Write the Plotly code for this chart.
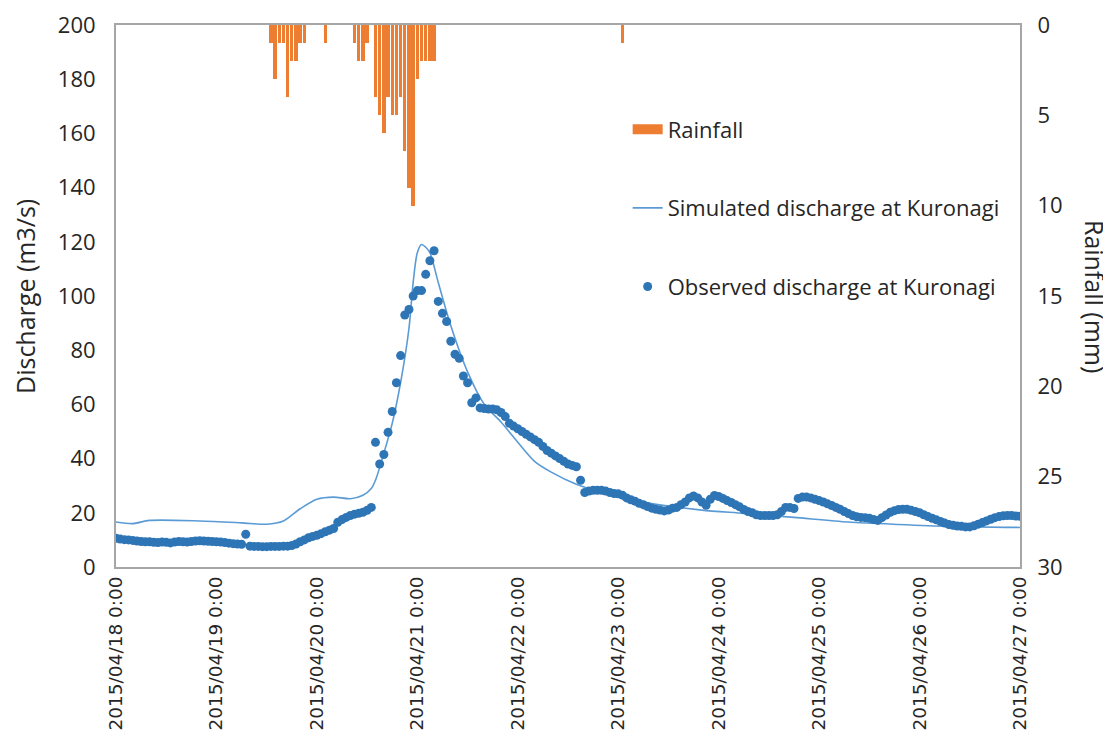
import pandas as pd
import plotly.graph_objects as go

# ---------------- data ----------------
# Rainfall (mm), hourly, hanging from top on reversed right axis
rain_time = (
    [f"2015-04-19 {h:02d}:00" for h in range(13, 22)]
    + ["2015-04-20 02:00"]
    + [f"2015-04-20 {h:02d}:00" for h in range(9, 24)]
    + [f"2015-04-21 {h:02d}:00" for h in range(0, 5)]
    + ["2015-04-23 01:00"]
)
rain_mm = (
    [1, 3, 1, 1, 4, 2, 2, 1, 1]
    + [1]
    + [1, 2, 2, 1, 0, 4, 5, 6, 4, 5, 5, 4, 7, 9, 10]
    + [3, 2, 2, 2, 2]
    + [1]
)

# Simulated discharge (m3/s), sampled at hours after 2015-04-18 0:00
sim_hour = [0, 4, 8, 20, 30, 36, 40, 44, 48, 52, 56, 59, 61, 62, 64, 66, 68, 70, 71,
            72, 73, 74, 75, 77, 80, 84, 88, 92, 96, 100, 104, 110, 116, 124, 132, 140,
            150, 162, 175, 187, 199, 216]
sim_q = [16.6, 16.0, 17.2, 17.0, 16.3, 15.8, 17.0, 21.5, 25.0, 25.8, 25.2, 26.5, 29.0,
         32.0, 42.0, 53.0, 68.0, 88.0, 105.0, 116.0, 119.0, 118.0, 116.0, 105.0, 89.0,
         72.0, 60.0, 53.5, 46.0, 39.0, 35.0, 30.5, 27.5, 24.5, 22.5, 21.0, 19.8, 18.3,
         16.6, 15.7, 15.0, 14.6]

# Observed discharge (m3/s), hourly from 2015-04-18 0:00
obs_q = [
    10.6, 10.3, 10.1, 10.0, 9.8, 9.6, 9.4, 9.3, 9.3, 9.1, 9.0, 9.2, 9.1, 8.9, 9.2, 9.4,
    9.3, 9.2, 9.4, 9.6, 9.7, 9.6, 9.5, 9.4, 9.3, 9.2, 9.0, 8.8, 8.6, 8.5, 8.4, 12.1,
    7.7, 7.6, 7.6, 7.5, 7.5, 7.6, 7.6, 7.6, 7.7, 7.7, 7.9, 8.5, 9.3, 10.0, 10.8, 11.3,
    11.7, 12.3, 13.0, 13.6, 14.2, 16.5, 17.5, 18.3, 19.0, 19.5, 19.8, 20.2, 20.9, 22.0,
    46.0, 38.0, 41.5, 49.7, 57.4, 68.0, 78.0, 93.0, 95.0, 100.0, 102.0, 102.0, 108.0,
    113.0, 116.7, 98.0, 93.6, 90.6, 83.3, 78.5, 77.0, 70.5, 68.0, 60.6, 62.4, 58.7,
    58.5, 58.3, 58.3, 58.0, 57.0, 55.5, 53.0, 52.0, 51.0, 50.0, 49.0, 48.0, 47.0, 46.0,
    44.5, 43.0, 42.0, 41.0, 40.0, 39.0, 38.0, 37.5, 37.0, 32.0, 27.5, 28.0, 28.3, 28.3,
    28.3, 28.0, 27.5, 27.1, 27.0, 26.5, 25.5, 24.8, 24.3, 23.5, 23.0, 22.3, 21.7, 21.3,
    21.0, 20.7, 21.0, 21.7, 22.0, 23.0, 24.0, 25.5, 26.2, 25.5, 24.0, 22.8, 25.0, 26.4,
    26.0, 25.3, 24.5, 23.8, 23.0, 22.2, 21.2, 20.5, 20.0, 19.3, 19.0, 19.0, 19.0, 19.0,
    19.3, 20.5, 22.0, 22.0, 21.6, 25.3, 25.8, 25.8, 25.5, 25.0, 24.5, 24.0, 23.3, 22.7,
    22.0, 21.3, 20.5, 19.7, 19.0, 18.5, 18.3, 18.2, 18.0, 17.5, 17.2, 18.2, 19.2, 20.2,
    20.8, 21.2, 21.3, 21.3, 20.9, 20.5, 20.0, 19.3, 18.6, 18.0, 17.4, 16.8, 16.2, 15.7,
    15.4, 15.1, 15.0, 14.8, 14.8, 15.2, 15.8, 16.4, 17.0, 17.6, 18.2, 18.6, 18.9, 19.0,
    19.0, 18.8, 18.7,
]

start = pd.Timestamp("2015-04-18 00:00")
sim_time = [start + pd.Timedelta(hours=h) for h in sim_hour]
obs_time = pd.date_range(start, periods=len(obs_q), freq="h")

ORANGE = "#ED7D31"
LINE_BLUE = "#5B9BD5"
DOT_BLUE = "#2E75B6"
AXIS_GRAY = "#A6A6A6"
TEXT = "#262626"
FONT = "Open Sans, Noto Sans, sans-serif"

fig = go.Figure()

fig.add_trace(go.Bar(
    x=rain_time, y=rain_mm, yaxis="y2", name="Rainfall",
    marker=dict(color=ORANGE, line=dict(width=0)),
    width=0.8 * 3600 * 1000, showlegend=False,
))
# legend entry for rainfall drawn as a wide rectangle
fig.add_trace(go.Scatter(
    x=[None], y=[None], mode="lines", name="Rainfall",
    line=dict(color=ORANGE, width=10), legendgroup="a",
))
fig.add_trace(go.Scatter(
    x=sim_time, y=sim_q, mode="lines", name="Simulated discharge at Kuronagi",
    line=dict(color=LINE_BLUE, width=1.6, shape="spline", smoothing=0.8),
    legendgroup="b",
))
fig.add_trace(go.Scatter(
    x=obs_time, y=obs_q, mode="markers", name="Observed discharge at Kuronagi",
    marker=dict(color=DOT_BLUE, size=9),
    legendgroup="c",
))

tickfont = dict(family=FONT, size=22, color=TEXT)

fig.update_layout(
    width=1103, height=730,
    margin=dict(l=108, r=91, t=17, b=171, autoexpand=False),
    paper_bgcolor="white", plot_bgcolor="white",
    showlegend=True,
    bargap=0,
    legend=dict(
        x=0.566, y=0.846, xanchor="left", yanchor="top",
        font=dict(family=FONT, size=22, color=TEXT),
        bgcolor="rgba(255,255,255,0)",
        traceorder="grouped", tracegroupgap=47,
        itemwidth=30,
    ),
    xaxis=dict(
        type="date",
        range=["2015-04-18 00:00", "2015-04-27 00:00"],
        dtick=86400000, tick0="2015-04-18",
        tickformat="%Y/%m/%d %-H:%M",
        tickangle=-90,
        tickfont=dict(family="DejaVu Sans, Verdana, sans-serif", size=18.5, color=TEXT),
        showgrid=False, zeroline=False,
        showline=True, linecolor=AXIS_GRAY, linewidth=2, mirror=True,
        ticks="", ticklabeloverflow="allow",
    ),
    yaxis=dict(
        range=[0, 200], dtick=20,
        tickfont=tickfont,
        showgrid=False, zeroline=False,
        showline=True, linecolor=AXIS_GRAY, linewidth=2, mirror=True,
        ticks="outside", ticklen=14, tickcolor="rgba(0,0,0,0)",
        ticklabeloverflow="allow",
    ),
    yaxis2=dict(
        overlaying="y", side="right",
        range=[30, 0], dtick=5,
        tickfont=tickfont,
        showgrid=False, zeroline=False, showline=False,
        ticks="outside", ticklen=12, tickcolor="rgba(0,0,0,0)",
        ticklabeloverflow="allow",
    ),
    annotations=[
        dict(text="Discharge (m3/s)", xref="paper", yref="paper",
             x=-0.1007, y=0.5, xanchor="center", yanchor="middle",
             textangle=-90, showarrow=False,
             font=dict(family=FONT, size=25, color=TEXT)),
        dict(text="Rainfall (mm)", xref="paper", yref="paper",
             x=1.083, y=0.5, xanchor="center", yanchor="middle",
             textangle=90, showarrow=False,
             font=dict(family=FONT, size=25, color=TEXT)),
    ],
)

fig.write_html("out.html")
